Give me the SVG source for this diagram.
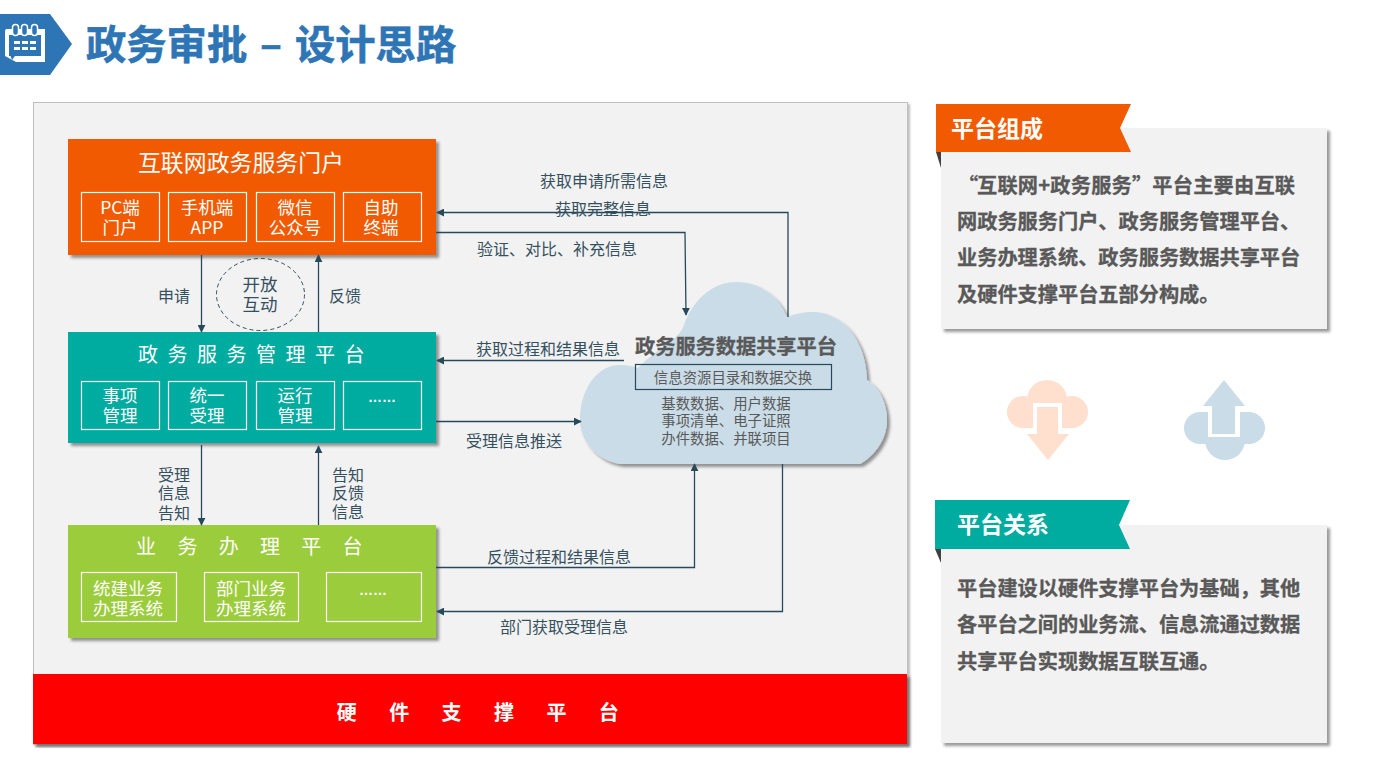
<svg xmlns="http://www.w3.org/2000/svg" width="1374" height="773" viewBox="0 0 1374 773">
<defs>
<filter id="sh" x="-5%" y="-5%" width="110%" height="110%"><feDropShadow dx="3" dy="3" stdDeviation="1.5" flood-color="#000" flood-opacity="0.4"/></filter>
<filter id="sh2" x="-2%" y="-2%" width="104%" height="104%"><feDropShadow dx="2" dy="2" stdDeviation="1" flood-color="#000" flood-opacity="0.25"/></filter>
<marker id="ah" viewBox="0 0 10 10" refX="9" refY="5" markerWidth="8" markerHeight="8" markerUnits="userSpaceOnUse" orient="auto"><path d="M0 0L10 5L0 10Z" fill="#264a5c"/></marker>
</defs>
<style>
text{font-family:"Noto Sans CJK SC","Noto Sans",sans-serif}
.w{fill:#fff;text-anchor:middle}
.lb{fill:#35505f;font-size:16px;text-anchor:middle}
.sb{fill:none;stroke:#fff;stroke-width:1.2}
.c{fill:none;stroke:#264a5c;stroke-width:1.3;marker-end:url(#ah)}
.p{fill:#595959;font-size:20.2px;font-weight:700;stroke:#595959;stroke-width:.3}
.s{font-size:17.5px}
.cl{fill:#595959;font-size:14.4px;text-anchor:middle}
.dots{font-family:"Liberation Sans",sans-serif;font-size:14px;font-weight:700}
</style>
<rect width="1374" height="773" fill="#fff"/>
<g id="title">
<path d="M0 14H50L72 44L50 75H0Z" fill="#2e75b6"/>
<path d="M7 29H45V62H16L5 56V31Q5 29 7 29Z" fill="#fff"/>
<rect x="9" y="35" width="32" height="21" fill="#2e75b6"/>
<g fill="#2e75b6" stroke="#fff" stroke-width="1.500"><rect x="12.500" y="24.500" width="6" height="11" rx="3"/><rect x="21.500" y="24.500" width="6" height="11" rx="3"/><rect x="31.500" y="24.500" width="6" height="11" rx="3"/></g>
<g fill="#fff"><rect x="14" y="41" width="6" height="3"/><rect x="22" y="41" width="6" height="3"/><rect x="30" y="41" width="6" height="3"/><rect x="14" y="47" width="6" height="3"/><rect x="22" y="47" width="6" height="3"/><rect x="30" y="47" width="6" height="3"/></g>
<path d="M9 52L15 56L12 60Z" fill="#2e75b6"/>
<text y="59" font-size="40.300" font-weight="700" fill="#2e75b6" stroke="#2e75b6" stroke-width=".6"><tspan x="86">政务审批</tspan><tspan x="260">–</tspan><tspan x="295">设计思路</tspan></text>
</g>
<g id="main-panel">
<rect x="33.500" y="102.500" width="874" height="642" fill="#f2f2f2" stroke="#bfbfbf" filter="url(#sh2)"/>
</g>
<g id="hardware">
<rect x="33" y="674" width="874" height="70" fill="#f00" filter="url(#sh)"/>
<text class="w" x="494" y="720" font-size="20" font-weight="700" letter-spacing="32.400">硬件支撑平台</text>
</g>
<g id="portal">
<rect x="68" y="139" width="368" height="116" fill="#f15a00" filter="url(#sh)"/>
<text class="w" x="241" y="171" font-size="22.900">互联网政务服务门户</text>
<rect class="sb" x="81.500" y="192.500" width="78" height="49"/><rect class="sb" x="168.500" y="192.500" width="78" height="49"/><rect class="sb" x="256.500" y="192.500" width="78" height="49"/><rect class="sb" x="343.500" y="192.500" width="78" height="49"/>
<g class="s"><text class="w" x="120" y="214">PC端</text><text class="w" x="120" y="234">门户</text>
<text class="w" x="207" y="214">手机端</text><text class="w" x="207" y="234">APP</text>
<text class="w" x="295" y="214">微信</text><text class="w" x="295" y="234">公众号</text>
<text class="w" x="381" y="214">自助</text><text class="w" x="381" y="234">终端</text></g>
</g>
<g id="mgmt">
<rect x="68" y="332" width="368" height="111" fill="#00aba0" filter="url(#sh)"/>
<text class="w" x="256" y="362" font-size="20" letter-spacing="9.500">政务服务管理平台</text>
<rect class="sb" x="81.500" y="381.500" width="78" height="48"/><rect class="sb" x="168.500" y="381.500" width="78" height="48"/><rect class="sb" x="256.500" y="381.500" width="78" height="48"/><rect class="sb" x="343.500" y="381.500" width="78" height="48"/>
<g class="s"><text class="w" x="120" y="402">事项</text><text class="w" x="120" y="422">管理</text>
<text class="w" x="207" y="402">统一</text><text class="w" x="207" y="422">受理</text>
<text class="w" x="295" y="402">运行</text><text class="w" x="295" y="422">管理</text>
<text class="w dots" x="382" y="402">……</text></g>
</g>
<g id="business">
<rect x="68" y="525" width="368" height="113" fill="#9bcc3b" filter="url(#sh)"/>
<text class="w" x="260" y="554" font-size="20" letter-spacing="21.300">业务办理平台</text>
<rect class="sb" x="81.500" y="572.500" width="95" height="49"/><rect class="sb" x="204.500" y="572.500" width="94" height="49"/><rect class="sb" x="326.500" y="572.500" width="95" height="49"/>
<g class="s"><text class="w" x="128" y="595">统建业务</text><text class="w" x="128" y="615">办理系统</text>
<text class="w" x="251" y="595">部门业务</text><text class="w" x="251" y="615">办理系统</text>
<text class="w dots" x="373" y="595">……</text></g>
</g>
<g id="cloud">
<path d="M620 464C596 460 580 440 580 420C580 388 598 365 620 365C626 365 632 366 638 368C655 350 675 342 683 328C692 300 712 282 737 282C760 282 778 296 787 317C797 313 805 312 813 312C842 312 866 340 867 380C880 388 887 404 887 420C887 440 874 456 860 464Z" fill="#c9dce7" filter="url(#sh)"/>
<text x="736" y="354" font-size="20.200" font-weight="700" fill="#595959" stroke="#595959" stroke-width=".3" text-anchor="middle">政务服务数据共享平台</text>
<rect x="635.500" y="364.500" width="196" height="25" fill="none" stroke="#264a5c" stroke-width="1.200"/>
<text class="cl" x="733" y="383">信息资源目录和数据交换</text>
<text class="cl" x="726" y="409">基数数据、用户数据</text>
<text class="cl" x="726" y="426">事项清单、电子证照</text>
<text class="cl" x="726" y="444">办件数据、并联项目</text>
</g>
<g id="open-interaction">
<ellipse cx="260.500" cy="294.500" rx="44" ry="36" fill="none" stroke="#35505f" stroke-dasharray="4 3"/>
<text x="260" y="291" font-size="17.500" fill="#35505f" text-anchor="middle">开放</text>
<text x="260" y="311" font-size="17.500" fill="#35505f" text-anchor="middle">互动</text>
</g>
<g id="connectors">
<path class="c" d="M788 317V212.500H437"/>
<path class="c" d="M436 232.500H685L686 315"/>
<path class="c" d="M624 360.500H437"/>
<path class="c" d="M436 421.500H581"/>
<path class="c" d="M201.500 255V332"/>
<path class="c" d="M318.500 332V255"/>
<path class="c" d="M201.500 445V525"/>
<path class="c" d="M318.500 525V446"/>
<path class="c" d="M436 567.500H694.500V464"/>
<path class="c" d="M782.500 464V611.500H437"/>
</g>
<g id="connector-labels">
<text class="lb" x="604" y="187">获取申请所需信息</text>
<text class="lb" x="603" y="215">获取完整信息</text>
<text class="lb" x="557" y="255">验证、对比、补充信息</text>
<text class="lb" x="548" y="355">获取过程和结果信息</text>
<text class="lb" x="514" y="447">受理信息推送</text>
<text class="lb" x="559" y="563">反馈过程和结果信息</text>
<text class="lb" x="564" y="633">部门获取受理信息</text>
<text class="lb" x="174" y="302">申请</text>
<text class="lb" x="345" y="302">反馈</text>
<text class="lb" x="174" y="481">受理</text><text class="lb" x="174" y="499">信息</text><text class="lb" x="174" y="519">告知</text>
<text class="lb" x="348" y="481">告知</text><text class="lb" x="348" y="499">反馈</text><text class="lb" x="348" y="518">信息</text>
</g>
<g id="composition">
<rect x="941" y="128" width="386" height="201" fill="#f2f2f2" filter="url(#sh)"/>
<path d="M936 152H941V168Z" fill="#404040"/>
<path d="M936 104H1131L1120 128L1131 152H936Z" fill="#f15a00"/>
<text x="951" y="137" font-size="23" font-weight="700" fill="#fff">平台组成</text>
<text class="p" y="193"><tspan x="958">“</tspan><tspan x="977" textLength="318">互联网+政务服务”平台主要由互联</tspan></text>
<text class="p" x="957" y="229">网政务服务门户、政务服务管理平台、</text>
<text class="p" x="957" y="265">业务办理系统、政务服务数据共享平台</text>
<text class="p" x="957" y="302">及硬件支撑平台五部分构成。</text>
</g>
<g id="relation">
<rect x="941" y="525" width="386" height="218" fill="#f2f2f2" filter="url(#sh)"/>
<path d="M935 549H941V563Z" fill="#404040"/>
<path d="M935 500H1130L1119 525L1130 549H935Z" fill="#00aba0"/>
<text x="957" y="533" font-size="23" font-weight="700" fill="#fff">平台关系</text>
<text class="p" x="957" y="596">平台建设以硬件支撑平台为基础，其他</text>
<text class="p" x="957" y="632">各平台之间的业务流、信息流通过数据</text>
<text class="p" x="957" y="669">共享平台实现数据互联互通。</text>
</g>
<g id="cloud-down">
<g fill="#ffdfcd"><circle cx="1047" cy="400" r="20"/><circle cx="1023" cy="412" r="16"/><circle cx="1072" cy="412" r="16"/><rect x="1023" y="400" width="49" height="28"/></g>
<rect x="1033" y="403" width="29" height="34" fill="#fff"/>
<path d="M1037 407H1058V434H1069L1048 460L1027 434H1037Z" fill="#ffdfcd"/>
</g>
<g id="cloud-up">
<g fill="#c9dce7"><circle cx="1225" cy="440" r="20"/><circle cx="1200" cy="428" r="16"/><circle cx="1249" cy="428" r="16"/><rect x="1200" y="412" width="49" height="32"/></g>
<rect x="1208" y="406" width="32" height="31" fill="#fff"/>
<path d="M1224 380L1245 406H1235V434H1212V406H1203Z" fill="#c9dce7"/>
</g>
</svg>
